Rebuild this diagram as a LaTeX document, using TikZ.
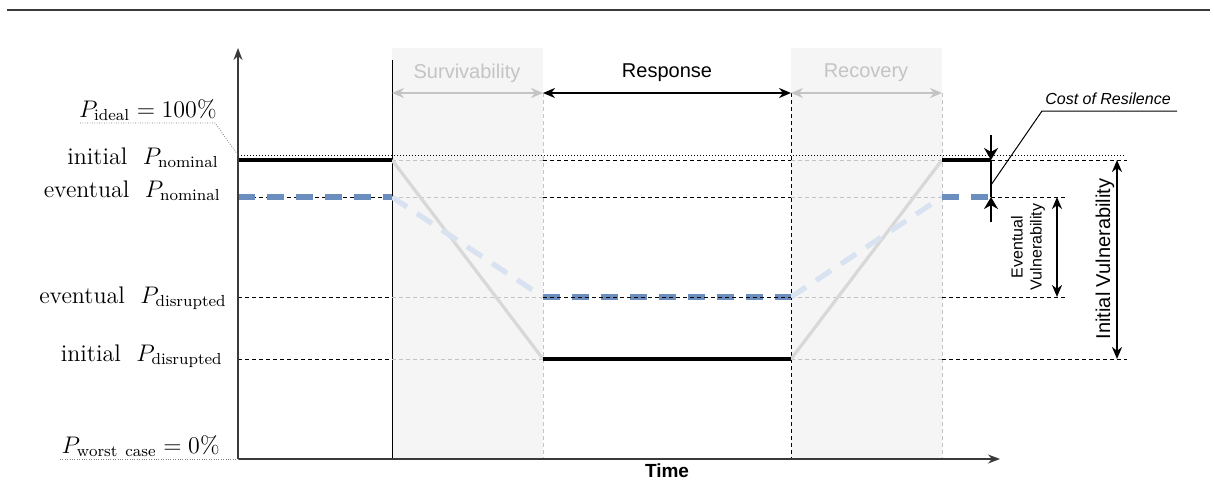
\documentclass[tikz,border=0pt]{standalone}
\usepackage{fontspec}
\newfontfamily\arialfont{Liberation Sans}
\usetikzlibrary{arrows.meta}

\definecolor{bandfill}{HTML}{F5F5F5}
\definecolor{ghostgray}{HTML}{C4C4C4}
\definecolor{slopegray}{HTML}{D8D8D8}
\definecolor{perfblue}{HTML}{6C8EBF}
\definecolor{fadeblue}{HTML}{D8E2F0}
\definecolor{axisgray}{HTML}{3A3A3A}

\begin{document}
\begin{tikzpicture}[x=0.5pt,y=-0.5pt,
  lvl/.style={font=\fontsize{12}{14}\selectfont, anchor=base east, inner sep=0pt},
  phase/.style={font=\arialfont\fontsize{10}{12}\selectfont, inner sep=0pt},
  guide/.style={black, line width=0.45pt, dash pattern=on 2pt off 1.5pt},
  ghost/.style={ghostgray, line width=0.45pt, dash pattern=on 2pt off 1.5pt},
  leader/.style={gray, line width=0.4pt, dash pattern=on 0.4pt off 0.8pt},
  level/.style={black, line width=2pt},
  bluelevel/.style={perfblue, line width=2.6pt, dash pattern=on 8.5pt off 6pt},
  slope/.style={slopegray, line width=1.6pt},
  fadeslope/.style={fadeblue, line width=2.6pt, dash pattern=on 9pt off 6pt},
  span/.style={line width=1pt, {Stealth[length=6pt,width=5pt]}-{Stealth[length=6pt,width=5pt]}},
  tip/.style={-{Stealth[length=6pt,width=7pt]}},
]
\useasboundingbox (0,0) rectangle (1214,482);

% rule across the top
\draw[axisgray, line width=0.7pt] (7,10) coordinate (rl) -- (1210,10) coordinate (rr);

% shaded phases
\fill[bandfill] (392,48) rectangle (543,459);
\fill[bandfill] (791,48) rectangle (942,459);

% time instants
\coordinate (t1top) at (392,60);   \coordinate (t1) at (392,459);
\coordinate (t2top) at (543,93);   \coordinate (t2) at (543,459);
\coordinate (t3top) at (791,93);   \coordinate (t3) at (791,459);
\coordinate (t4top) at (942,93);   \coordinate (t4) at (942,459);

\draw[ghost] (t2top) -- (t2);
\draw[ghost] (t4top) -- (t4);
\draw[guide] (t3top) -- (t3);
\draw[black, line width=0.5pt] (t1top) -- (t1);

% performance levels
\coordinate (I0) at (238,155);  \coordinate (I9) at (1125,155);
\draw[black, line width=0.45pt, dash pattern=on 0.5pt off 1pt] (I0) -- (I9);

% initial P nominal (y=160)
\coordinate (N0) at (238,160); \coordinate (N1) at (392,160); \coordinate (N2) at (543,160);
\coordinate (N3) at (791,160); \coordinate (N4) at (942,160); \coordinate (N5) at (991,160);
\coordinate (N9) at (1127,160);
% eventual P nominal (y=197)
\coordinate (E0) at (238,197); \coordinate (E1) at (392,197); \coordinate (E2) at (543,197);
\coordinate (E3) at (791,197); \coordinate (E4) at (942,197); \coordinate (E5) at (991,197);
\coordinate (E9) at (1067,197);
% eventual P disrupted (y=297)
\coordinate (F0) at (238,297); \coordinate (F1) at (392,297); \coordinate (F2) at (543,297);
\coordinate (F3) at (791,297); \coordinate (F4) at (942,297); \coordinate (F9) at (1067,297);
% initial P disrupted (y=359)
\coordinate (D0) at (238,359); \coordinate (D1) at (392,359); \coordinate (D2) at (543,359);
\coordinate (D3) at (791,359); \coordinate (D4) at (942,359); \coordinate (D9) at (1127,359);

% faint guides inside the shaded phases
\foreach \a/\b in {N1/N2,N3/N4,E1/E2,E3/E4,F1/F2,F3/F4,D1/D2,D3/D4}
  \draw[ghost] (\a) -- (\b);
% black guides elsewhere
\foreach \a/\b in {N2/N3,N5/N9,E0/E1,E2/E3,E5/E9,F0/F1,F4/F9,D0/D1,D4/D9}
  \draw[guide] (\a) -- (\b);

% transitions
\draw[slope] (N1) -- (D2);
\draw[slope] (D3) -- (N4);
\draw[fadeslope] (E1) -- (F2);
\draw[fadeslope] (F3) -- (E4);

% realised performance
\draw[level] (N0) -- (N1);
\draw[level] (D2) -- (D3);
\draw[level] (N4) -- (N5);
\draw[bluelevel] (E0) -- (E1);
\draw[bluelevel] (F2) -- (F3);
\draw[guide] (F2) -- (F3);
\draw[bluelevel] (E4) -- (E5);

% axes
\coordinate (O) at (238,459);
\coordinate (Ytip) at (238,48);
\coordinate (Xtip) at (1000,459);
\draw[axisgray, line width=0.7pt, -{Stealth[length=6pt,width=4.5pt]}] (O) -- (Ytip);
\draw[axisgray, line width=0.7pt, -{Stealth[length=6pt,width=4.5pt]}] (O) -- (Xtip);
\node[font=\arialfont\bfseries\fontsize{9.5}{11}\selectfont, inner sep=0pt] (time) at (667,471) {Time};

% phase spans
\coordinate (p1) at (392,93); \coordinate (p2) at (543,93);
\coordinate (p3) at (791,93); \coordinate (p4) at (942,93);
\draw[span, ghostgray] (p1) -- (p2);
\draw[span, black] (p2) -- (p3);
\draw[span, ghostgray] (p3) -- (p4);
\node[phase, ghostgray] (surv) at (467,73) {Survivability};
\node[phase] (resp) at (667,73) {Response};
\node[phase, ghostgray] (reco) at (866,73) {Recovery};

% level labels
\node[lvl] (lideal) at (217,117) {$P_{\mathrm{ideal}} = 100\%$};
\node[lvl] (linom) at (219,164) {initial\ \ $P_{\mathrm{nominal}}$};
\node[lvl] (lenom) at (221,197) {eventual\ \ $P_{\mathrm{nominal}}$};
\node[lvl] (ledis) at (227,303) {eventual\ \ $P_{\mathrm{disrupted}}$};
\node[lvl] (lidis) at (223,361) {initial\ \ $P_{\mathrm{disrupted}}$};
\node[lvl] (lworst) at (220,453) {$P_{\mathrm{worst\ case}} = 0\%$};
\coordinate (ul1) at (80,123); \coordinate (ul2) at (215,123);
\draw[leader] (ul1) -- (ul2) -- (I0);
\coordinate (ul3) at (60,459);
\draw[leader] (ul3) -- (O);

% cost of resilience
\coordinate (c0) at (991,135); \coordinate (c1) at (991,222);
\draw[black, line width=1pt, tip] (c0) -- (N5);
\draw[black, line width=1pt] (N5) -- (E5);
\draw[black, line width=1pt, tip] (c1) -- (E5);
\coordinate (cl0) at (991,185); \coordinate (cl1) at (1042,111); \coordinate (cl2) at (1177,111);
\draw[black, line width=0.5pt] (cl0) -- (cl1) -- (cl2);
\node[font=\arialfont\itshape\fontsize{8}{10}\selectfont, inner sep=0pt] (cost) at (1108,99) {Cost of Resilence};

% vulnerabilities
\coordinate (ev0) at (1057,197); \coordinate (ev1) at (1057,297);
\draw[span, black, line width=1.1pt] (ev0) -- (ev1);
\node[rotate=90, align=center, inner sep=0pt,
      font=\arialfont\fontsize{8}{9.5}\selectfont] (evtxt) at (1028,247) {Eventual\\Vulnerability};
\coordinate (iv0) at (1117,160); \coordinate (iv1) at (1117,359);
\draw[span, black, line width=1.3pt] (iv0) -- (iv1);
\node[rotate=90, inner sep=0pt, font=\arialfont\fontsize{10}{12}\selectfont] (ivtxt) at (1105,259) {Initial Vulnerability};
\end{tikzpicture}
\end{document}
